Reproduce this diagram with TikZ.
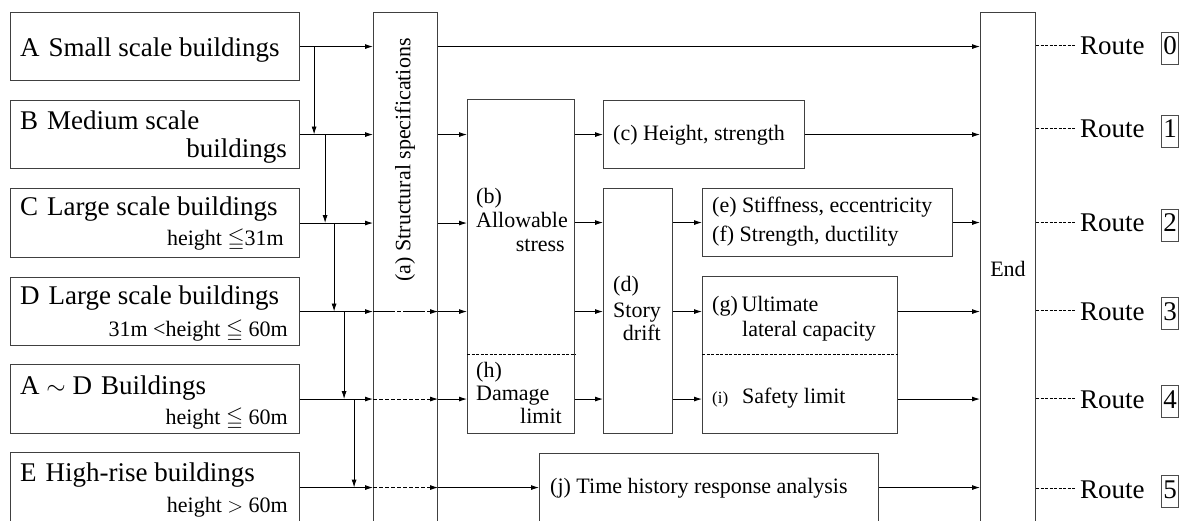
\documentclass[tikz,border=0pt]{standalone}
\usepackage{fontspec}
\usepackage{amssymb}
\setmainfont{Liberation Serif}
\usetikzlibrary{arrows.meta,calc}
\newcommand{\fL}{\fontsize{27}{30}\selectfont}
\newcommand{\fM}{\fontsize{22}{25}\selectfont}
\newcommand{\fS}{\fontsize{17}{20}\selectfont}
\tikzset{
  box/.style={draw=black!75, line width=1.1pt, anchor=north west, inner sep=0pt},
  tx/.style={inner sep=0pt, font=\fM},
  txl/.style={inner sep=0pt, font=\fL},
  arr/.style={line width=0.9pt, -{Latex[length=8pt,width=5pt]}},
  thru/.style={arr, dash pattern=on 4pt off 2pt},
  thrulong/.style={arr, dash pattern=on 22pt off 2pt on 4pt off 2pt},
  divider/.style={line width=0.7pt, dash pattern=on 3pt off 1.5pt},
  routeline/.style={line width=0.7pt, dash pattern=on 3pt off 1.5pt},
  routetxt/.style={inner xsep=5pt, inner ysep=0pt, text height=20pt, text depth=0pt, font=\fL},
  digit/.style={draw=black!70, line width=0.8pt, inner xsep=2pt, inner ysep=4pt, text height=19pt, text depth=5pt, font=\fL},
}
\begin{document}
\begin{tikzpicture}[x=1pt,y=-1pt]
\useasboundingbox (0,0) rectangle (1183,521);
\clip (0,0) rectangle (1183,521);
\fill[white] (0,0) rectangle (1183,521);

% left boxes
\node[box, minimum width=289pt, minimum height=68pt] (A) at (10,12) {};
\node[box, minimum width=289pt, minimum height=68pt] (B) at (10,100) {};
\node[box, minimum width=289pt, minimum height=69pt] (C) at (10,188) {};
\node[box, minimum width=289pt, minimum height=68pt] (D) at (10,277) {};
\node[box, minimum width=289pt, minimum height=69pt] (AD) at (10,364) {};
\node[box, minimum width=289pt, minimum height=70pt] (E) at (10,452) {};

% left texts
\node[txl, anchor=base west] (tA) at (20,57) {A\hspace{9pt}Small scale buildings};
\node[txl, anchor=base west] (tB1) at (20,130) {B\hspace{9pt}Medium scale};
\node[txl, anchor=base east] (tB2) at (287,158) {buildings};
\node[txl, anchor=base west] (tC1) at (20,216) {C\hspace{9pt}Large scale buildings};
\node[tx, anchor=base east] (tC2) at (284,246) {height $\leqq$31m};
\node[txl, anchor=base west] (tD1) at (20,305) {D\hspace{9pt}Large scale buildings};
\node[tx, anchor=base east] (tD2) at (288,336) {31m <height $\leqq$ 60m};
\node[txl, anchor=base west] (tAD1) at (20,394) {A $\sim$ D\hspace{9pt}Buildings};
\node[tx, anchor=base east] (tAD2) at (288,424) {height $\leqq$ 60m};
\node[txl, anchor=base west] (tE1) at (20,481) {E\hspace{9pt}High-rise buildings};
\node[tx, anchor=base east] (tE2) at (288,512) {height $>$ 60m};

% middle boxes
\node[box, minimum width=64pt, minimum height=530pt] (a) at (373,12) {};
\node[tx, rotate=90] (ta) at (405,160) {(a) Structural specifications};
\node[box, minimum width=107pt, minimum height=334pt] (b) at (467,99) {};
\node[box, minimum width=201pt, minimum height=68pt] (c) at (603,100) {};
\node[box, minimum width=69pt, minimum height=245pt] (d) at (603,188) {};
\node[box, minimum width=250pt, minimum height=68pt] (ef) at (702,188) {};
\node[box, minimum width=195pt, minimum height=157pt] (gi) at (702,276) {};
\node[box, minimum width=339pt, minimum height=100pt] (j) at (539,453) {};
\node[box, minimum width=55pt, minimum height=530pt] (End) at (980,12) {};

% dividers
\draw[divider] (b.west |- 0,354) -- (b.east |- 0,354);
\draw[divider] (gi.west |- 0,354) -- (gi.east |- 0,354);

% inner texts
\node[tx, anchor=base west] (tb1) at (476,204) {(b)};
\node[tx, anchor=base west] (tb2) at (476,228) {Allowable};
\node[tx, anchor=base east] (tb3) at (565,252) {stress};
\node[tx, anchor=base west] (th1) at (476,377) {(h)};
\node[tx, anchor=base west] (th2) at (476,400) {Damage};
\node[tx, anchor=base east] (th3) at (562,423) {limit};
\node[tx, anchor=base west] (tc) at (613,141) {(c) Height, strength};
\node[tx, anchor=base west] (td1) at (613,292) {(d)};
\node[tx, anchor=base west] (td2) at (613,317) {Story};
\node[tx, anchor=base east] (td3) at (661,340) {drift};
\node[tx, anchor=base west] (te) at (712,213) {(e) Stiffness, eccentricity};
\node[tx, anchor=base west] (tf) at (712,242) {(f) Strength, ductility};
\node[tx, anchor=base west] (tg1) at (712,312) {(g)\,Ultimate};
\node[tx, anchor=base west] (tg2) at (742,336) {lateral capacity};
\node[inner sep=0pt, font=\fS, anchor=base west] (ti1) at (712,403) {(i)};
\node[tx, anchor=base west] (ti2) at (742,403) {Safety limit};
\node[tx, anchor=base west] (tj) at (550,493) {(j) Time history response analysis};
\node[tx, anchor=base] (tEnd) at (1008,277) {End};

% drop arrows
\path (A.east) ++(14,0) coordinate (dA);
\path (B.east) ++(25,0) coordinate (dB);
\path (C.east) ++(34,0) coordinate (dC);
\path (D.east) ++(44,0) coordinate (dD);
\path (AD.east) ++(54,0) coordinate (dAD);
\draw[arr] (dA) -- (dA |- B.east);
\draw[arr] (dB) -- (dB |- C.east);
\draw[arr] (dC) -- (dC |- D.east);
\draw[arr] (dD) -- (dD |- AD.east);
\draw[arr] (dAD) -- (dAD |- E.east);

% into (a)
\draw[arr] (A.east) -- (A.east -| a.west);
\draw[arr] (B.east) -- (B.east -| a.west);
\draw[arr] (C.east) -- (C.east -| a.west);
\draw[arr] (D.east) -- (D.east -| a.west);
\draw[arr] (AD.east) -- (AD.east -| a.west);
\draw[arr] (E.east) -- (E.east -| a.west);

% through (a)
\draw[thrulong] (a.west |- D.east) -- (a.east |- D.east);
\draw[thru] (a.west |- AD.east) -- (a.east |- AD.east);
\draw[thru] (a.west |- E.east) -- (a.east |- E.east);

% route A
\draw[arr] (a.east |- A.east) -- (End.west |- A.east);
% route B
\draw[arr] (a.east |- B.east) -- (b.west |- B.east);
\draw[arr] (b.east |- c.west) -- (c.west);
\draw[arr] (c.east) -- (End.west |- c.east);
% route C
\draw[arr] (a.east |- C.east) -- (b.west |- C.east);
\draw[arr] (b.east |- ef.west) -- (d.west |- ef.west);
\draw[arr] (d.east |- ef.west) -- (ef.west);
\draw[arr] (ef.east) -- (End.west |- ef.east);
% route D
\draw[arr] (a.east |- D.east) -- (b.west |- D.east);
\draw[arr] (b.east |- D.east) -- (d.west |- D.east);
\draw[arr] (d.east |- D.east) -- (gi.west |- D.east);
\draw[arr] (gi.east |- D.east) -- (End.west |- D.east);
% route A~D
\draw[arr] (a.east |- AD.east) -- (b.west |- AD.east);
\draw[arr] (b.east |- AD.east) -- (d.west |- AD.east);
\draw[arr] (d.east |- AD.east) -- (gi.west |- AD.east);
\draw[arr] (gi.east |- AD.east) -- (End.west |- AD.east);
% route E
\draw[arr] (a.east |- E.east) -- (j.west |- E.east);
\draw[arr] (j.east |- E.east) -- (End.west |- E.east);

% route labels
\node[routetxt, anchor=west] (R0) at (1075,45) {Route};
\node[routetxt, anchor=west] (R1) at (1075,128) {Route};
\node[routetxt, anchor=west] (R2) at (1075,222) {Route};
\node[routetxt, anchor=west] (R3) at (1075,310) {Route};
\node[routetxt, anchor=west] (R4) at (1075,398) {Route};
\node[routetxt, anchor=west] (R5) at (1075,488) {Route};
\foreach \i in {0,...,5} {
  \node[digit, anchor=west] (N\i) at ([xshift=11pt,yshift=-3pt]R\i.east) {\i};
  \draw[routeline] (End.east |- R\i.west) -- (R\i.west);
}
\end{tikzpicture}
\end{document}
